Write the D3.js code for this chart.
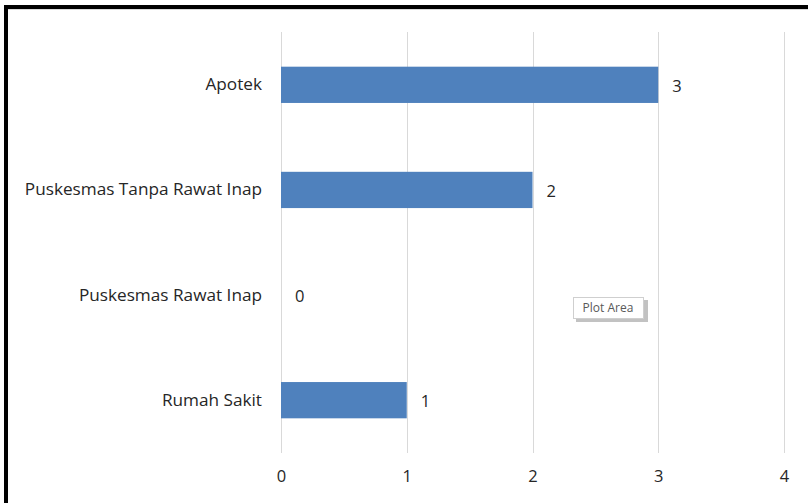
<!DOCTYPE html>
<html><head><meta charset="utf-8">
<script src="https://cdn.jsdelivr.net/npm/d3@7"></script>
<style>body{margin:0;background:#fff}svg{display:block}</style>
</head><body>
<script>
const categories = ["Apotek", "Puskesmas Tanpa Rawat Inap", "Puskesmas Rawat Inap", "Rumah Sakit"];
const values = [3, 2, 0, 1];
const xTicks = [0, 1, 2, 3, 4];

const W = 808, H = 503;
const svg = d3.select("body").append("svg").attr("width", W).attr("height", H);
svg.append("rect").attr("width", W).attr("height", H).attr("fill", "#fff");

// frame
svg.append("line").attr("x1", 4).attr("x2", W).attr("y1", 7).attr("y2", 7).attr("stroke", "#000").attr("stroke-width", 4);
svg.append("line").attr("x1", 6).attr("x2", 6).attr("y1", 5).attr("y2", H).attr("stroke", "#000").attr("stroke-width", 4);
svg.append("line").attr("x1", 8).attr("x2", W).attr("y1", 9.5).attr("y2", 9.5).attr("stroke", "#d9d9d9").attr("stroke-width", 1);

const x = d3.scaleLinear().domain([0, 4]).range([281, 784]);
const y = d3.scaleBand().domain(categories).range([32, 453]).paddingInner(0.655).paddingOuter(0.33);

const font = "'Open Sans', 'Noto Sans', sans-serif";

// gridlines
svg.append("g").selectAll("line").data(xTicks).join("line")
  .attr("x1", d => Math.round(x(d)) + 0.5).attr("x2", d => Math.round(x(d)) + 0.5)
  .attr("y1", 32).attr("y2", 453).attr("stroke", "#d9d9d9").attr("stroke-width", 1);

// x tick labels
const xAxis = svg.append("g").attr("transform", "translate(0,453)")
  .call(d3.axisBottom(x).tickValues(xTicks).tickFormat(d3.format("d")).tickSize(0).tickPadding(17));
xAxis.select(".domain").remove();
xAxis.selectAll("text").attr("font-family", font).attr("font-size", 16.5).attr("fill", "#262626");

// y labels
const yAxis = svg.append("g").attr("transform", "translate(281,0)")
  .call(d3.axisLeft(y).tickSize(0).tickPadding(19));
yAxis.select(".domain").remove();
yAxis.selectAll("text").attr("font-family", font).attr("font-size", 17.2).attr("fill", "#262626");

// bars
svg.append("g").selectAll("rect").data(categories).join("rect")
  .attr("x", x(0)).attr("y", d => y(d))
  .attr("width", (d, i) => x(values[i]) - x(0))
  .attr("height", y.bandwidth()).attr("fill", "#4f81bd");

// value labels
svg.append("g").selectAll("text").data(categories).join("text")
  .attr("x", (d, i) => x(values[i]) + 14)
  .attr("y", d => y(d) + y.bandwidth() / 2 + 1)
  .attr("dy", "0.35em")
  .attr("font-family", font).attr("font-size", 16.5).attr("fill", "#262626")
  .text((d, i) => values[i]);

// "Plot Area" tooltip
const tip = svg.append("g").attr("transform", "translate(573,297)");
tip.append("rect").attr("x", 3).attr("y", 3).attr("width", 72).attr("height", 22).attr("fill", "#9a9a9a").attr("opacity", 0.6);
tip.append("rect").attr("x", 0.5).attr("y", 0.5).attr("width", 70).attr("height", 21).attr("fill", "#fff").attr("stroke", "#cfcfcf");
tip.append("text").attr("x", 35).attr("y", 11).attr("dy", "0.35em").attr("text-anchor", "middle")
  .attr("font-family", font).attr("font-size", 12).attr("fill", "#595959").text("Plot Area");
</script>
</body></html>
